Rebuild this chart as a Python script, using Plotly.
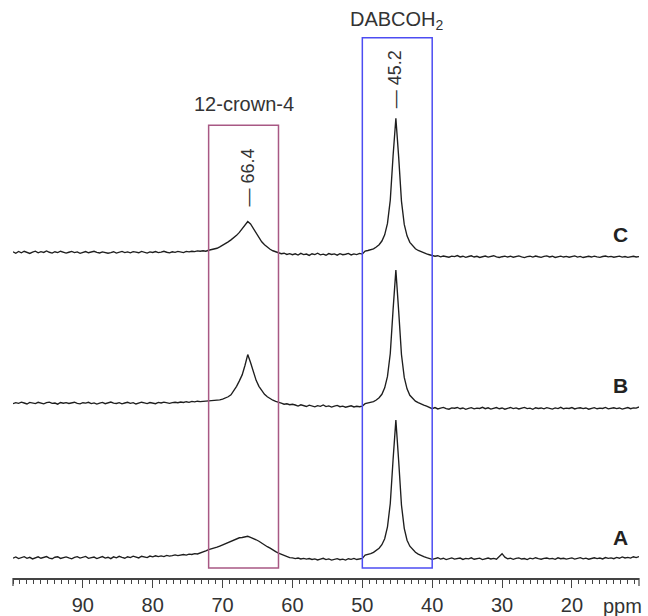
import numpy as np
import plotly.graph_objects as go

# chemical shift grid (ppm), 0.4 ppm spacing from 100 down to 10.4
ppm = np.round(np.linspace(100.0, 10.4, 225), 1)

# ---- spectrum C (intensity, arbitrary units) ----
C_vals = (
    [2.5, 1.0, 2.8, 1.5, 3.0, 2.0, 0.8, 2.2, 3.1, 1.4, 2.6, 1.8, 3.3, 2.0, 1.2, 2.5, 1.7, 3.0, 2.4, 1.1,
     2.0, 2.9, 1.6, 2.3, 0.9, 1.8, 2.7, 1.5, 2.2, 3.0, 1.9, 1.3, 2.4, 2.0, 1.0, 1.6, 2.5, 1.2, 1.9, 2.8,
     1.7, 2.3, 1.4, 2.6, 2.1, 1.5, 2.9, 2.0, 1.1, 2.4, 1.8, 2.7, 1.6, 2.2, 3.0, 2.0, 1.4, 2.5, 1.9, 2.8,
     2.2, 1.6, 2.9, 2.4, 3.0, 2.6, 3.4, 3.0]
    + [3.5, 3.0, 4.0, 4.5, 5.0, 6.0, 7.5, 9.0, 10.5, 12.5, 14.5, 16.5, 19.0, 22.0, 25.5, 30.0, 33.0, 30.5, 26.0, 21.5]
    + [16.0, 12.5, 9.5, 7.0, 5.0, 3.5, 2.5, 1.5, 0.5, 1.0, -0.2, 0.6, -0.5]
    + [0.4, -0.8, 0.9, -0.3, 0.2, -1.2, 0.5, -0.4, 1.0, -0.6, 0.1, -1.0, 0.7, -0.2, 0.3, -0.9, 0.6, -0.5, 0.0, 0.8,
       -0.7, 0.4, -0.3, 0.9, 0.2]
    + [3.2, 3.8, 4.3, 5.4, 7.3, 9.6, 13.3, 19.5, 31.0, 54.5, 99.0, 137.0, 98.0, 53.5, 30.0, 18.5, 12.0, 8.5,
       5.5, 3.8, 2.5, 1.2, 0.3]
    + [-0.5, -1.2, -2.0, -1.5, -2.6, -1.8, -2.2, -3.0, -1.9, -2.4, -1.3, -2.7, -2.0, -3.1, -2.3, -1.6, -2.8, -2.1, -3.2, -2.4,
       -1.8, -2.9, -2.2, -1.5, -2.6, -3.3, -2.5, -1.9, -2.8, -2.0, -3.0, -2.3, -1.7, -2.6, -3.4, -2.4, -2.0, -2.9, -1.8, -2.5,
       -3.1, -2.2, -1.6, -2.7, -2.0, -3.2, -2.4, -1.9, -2.8, -2.1, -3.0, -2.5, -1.7, -2.9, -2.2, -3.3, -2.6, -2.0, -2.8, -1.9,
       -2.6, -3.1, -2.3, -1.8, -2.7, -2.2, -3.0, -2.4, -1.9, -2.9, -2.3, -3.2, -2.5, -2.0, -2.8, -2.4]
)

# ---- spectrum B ----
B_vals = (
    [1.5, 2.6, 1.9, 3.0, 2.2, 1.2, 2.8, 2.0, 1.6, 2.9, 2.3, 1.4, 2.5, 3.1, 1.8, 2.2, 1.0, 2.7, 2.0, 2.6,
     1.7, 2.4, 3.0, 1.9, 1.3, 2.5, 2.1, 2.9, 1.6, 2.3, 1.1, 2.0, 2.8, 1.5, 2.4, 3.2, 2.0, 1.7, 2.6, 1.4,
     2.2, 2.9, 1.8, 2.5, 1.2, 2.1, 3.0, 2.3, 1.6, 2.7, 2.0, 1.5, 2.8, 2.2, 3.1, 2.4, 1.9, 2.6, 3.0, 2.5,
     3.2, 2.7, 3.5, 2.9, 3.8, 3.3, 4.0, 3.6]
    + [3.8, 4.2, 3.9, 4.6, 4.4, 5.0, 5.3, 6.2, 7.0, 8.5, 10.5, 14.5, 19.0, 24.5, 30.5, 40.0, 51.0, 43.0, 33.0, 25.0,
       19.0, 14.5, 11.0, 8.5, 6.5, 5.0, 3.8, 2.5, 2.0, 1.0, 1.4, 0.5, 0.9]
    + [0.2, -0.9, 0.4, -0.5, -1.3, 0.0, -0.8, -1.6, -0.4, -1.1, 0.3, -1.4, -0.7, -1.9, -0.9, -0.2, -1.5, -1.0, -2.0, -1.2,
       -0.6, -1.8, -1.1, -1.5, -0.9]
    + [1.5, 2.0, 2.5, 3.6, 5.2, 7.6, 11.0, 17.5, 29.0, 52.0, 96.0, 136.0, 95.0, 51.0, 28.0, 16.5, 10.0, 6.5,
       4.0, 2.5, 1.0, 0.0, -1.0]
    + [-2.0, -3.5, -2.4, -3.8, -2.9, -2.2, -3.4, -4.0, -2.7, -3.1, -2.3, -3.6, -2.8, -4.1, -3.2, -2.5, -3.7, -2.9, -3.3, -2.1,
       -3.5, -2.6, -3.9, -3.0, -2.4, -3.6, -2.8, -4.0, -3.1, -2.3, -3.4, -2.7, -3.8, -2.9, -2.2, -3.5, -3.0, -4.2, -2.6, -3.3,
       -2.8, -3.7, -2.5, -3.2, -3.9, -2.7, -3.4, -2.1, -3.6, -2.9, -3.3, -2.4, -3.8, -3.0, -2.6, -3.5, -2.8, -4.0, -3.1, -2.5,
       -3.6, -2.9, -3.3, -2.2, -3.7, -3.0, -2.6, -3.4, -2.8, -3.9, -3.1, -2.4, -3.5, -2.7, -3.0, -1.8]
)

# ---- spectrum A ----
A_vals = (
    [-1.0, 0.2, -1.5, -0.4, 0.5, -1.2, -0.2, -1.8, -0.6, 0.3, -1.1, -0.3, 0.6, -0.9, -1.6, -0.1, 0.4, -1.3, -0.5, 0.2,
     -0.8, -1.7, -0.2, 0.5, -1.0, -0.4, 0.7, -1.2, -0.6, 0.1, -1.4, -0.3, 0.6, -0.9, -0.1, -1.5, 0.3, -0.7, 0.8, -0.2,
     -1.1, 0.4, -0.5, 1.0, 0.0, -0.8, 0.9, 0.2, -0.4, 1.1, 0.3, 1.4, 0.5, 1.2, 0.6, 1.8, 1.0, 1.5, 2.2, 1.6]
    + [2.0, 2.6, 2.0, 3.1, 2.7, 3.5, 3.2, 4.5, 5.5, 6.3, 7.5, 8.2, 8.8, 10.0, 11.2, 12.5, 13.2, 14.8, 15.8, 17.5,
       18.2, 19.5, 19.8, 20.8, 21.0, 20.0, 19.0, 17.5, 16.0, 14.0, 12.5, 10.5, 9.0, 7.0, 5.5, 4.0, 2.8, 1.5, 0.6, -0.5,
       -0.8, -1.5, -0.9, -1.8, -1.2, -2.0]
    + [-1.4, -2.3, -1.7, -2.8, -2.0, -1.2, -2.5, -1.8, -3.0, -2.1, -1.5, -2.6, -2.0, -2.9, -1.6, -2.2, -1.3, -2.4, -1.9, -1.2]
    + [2.0, 2.5, 3.5, 4.8, 6.5, 9.0, 12.5, 18.5, 30.5, 54.0, 98.0, 138.0, 97.0, 52.5, 29.0, 17.0, 11.0, 7.5,
       5.0, 3.0, 1.5, 0.5, -0.5]
    + [-1.0, -2.2, -1.4, -0.6, -1.9, -1.1, -2.5, -1.3, -0.8, -2.0, -1.5, -0.9, -2.3, -1.2, -1.7, -0.7, -2.1, -1.4, -1.0, -2.4,
       -1.6, -0.9, -1.8, -1.2, -2.0, 0.5, 3.5, 0.0, -1.6, -1.1, -2.2, -1.3, -0.8, -1.9, -1.4, -2.4, -1.0, -1.7, -0.6, -1.5,
       -2.1, -1.2, -0.9, -1.8, -1.3, -2.2, -0.7, -1.6, -1.1, -2.0, -1.4, -0.8, -1.9, -1.2, -0.5, -1.7, -1.0, -2.1, -1.3, -0.6,
       -1.5, -0.9, -1.8, -0.4, -1.2, -0.7, -1.6, -0.3, -1.1, 0.2, -0.8, -0.2, -1.0, 0.4, -0.5, 0.6]
)

trace_names = ["A", "B", "C"]
trace_offsets = [21, 174, 326]
tick_values = [90, 80, 70, 60, 50, 40, 30, 20]
tick_labels = ["90", "80", "70", "60", "50", "40", "30", "20"]
peak_labels = ["66.4", "45.2"]

FONT = "Liberation Sans, Arial, sans-serif"
fig = go.Figure()
for name, vals, off in zip(trace_names, [A_vals, B_vals, C_vals], trace_offsets):
    fig.add_trace(go.Scatter(x=ppm, y=np.array(vals) + off, mode="lines",
                             line=dict(color="#1e1e1e", width=1.35), name=name,
                             showlegend=False, hoverinfo="skip"))
    fig.add_annotation(x=13.1, y=off + 20, text="<b>%s</b>" % name, showarrow=False,
                       font=dict(family=FONT, size=21, color="#222"))

# highlight boxes
fig.add_shape(type="rect", xref="x", yref="y", x0=72, x1=62, y0=10, y1=456,
              line=dict(color="#a85884", width=1.5))
fig.add_shape(type="rect", xref="x", yref="y", x0=50, x1=40, y0=10, y1=544,
              line=dict(color="#4c4cf2", width=1.5))

fig.add_annotation(x=67, y=477, text="12-crown-4", showarrow=False,
                   font=dict(family=FONT, size=20, color="#333"))
fig.add_annotation(x=45, y=561, text="DABCOH<sub>2</sub>", showarrow=False,
                   font=dict(family=FONT, size=20, color="#333"))
fig.add_annotation(x=66.4, y=403, text="— " + peak_labels[0], textangle=-90, showarrow=False,
                   font=dict(family=FONT, size=18, color="#333"))
fig.add_annotation(x=45.2, y=502, text="— " + peak_labels[1], textangle=-90, showarrow=False,
                   font=dict(family=FONT, size=18, color="#333"))
fig.add_annotation(xref="paper", yref="paper", x=(622 - 13) / 626, y=-28 / 582,
                   xanchor="center", yanchor="middle", text="ppm", showarrow=False,
                   font=dict(family=FONT, size=20, color="#333"))

# end ticks of the axis frame
for xp in (0, 1):
    fig.add_shape(type="line", xref="paper", yref="paper", x0=xp, x1=xp, y0=0, y1=-8 / 582,
                  line=dict(color="#444", width=1.2))

fig.update_layout(
    width=648, height=616,
    margin=dict(l=13, r=9, t=0, b=34),
    paper_bgcolor="white", plot_bgcolor="white",
    xaxis=dict(range=[100, 10.4], tickvals=tick_values, ticktext=tick_labels,
               showline=True, linecolor="#444", linewidth=1.5,
               ticks="outside", ticklen=8, tickwidth=1.2, tickcolor="#444",
               tickfont=dict(family=FONT, size=20, color="#333"),
               showgrid=False, zeroline=False,
               minor=dict(dtick=1, tick0=0, ticks="outside", ticklen=4, tickwidth=1,
                          tickcolor="#444", showgrid=False)),
    yaxis=dict(range=[0, 582], visible=False),
)

fig.write_html("out.html")
